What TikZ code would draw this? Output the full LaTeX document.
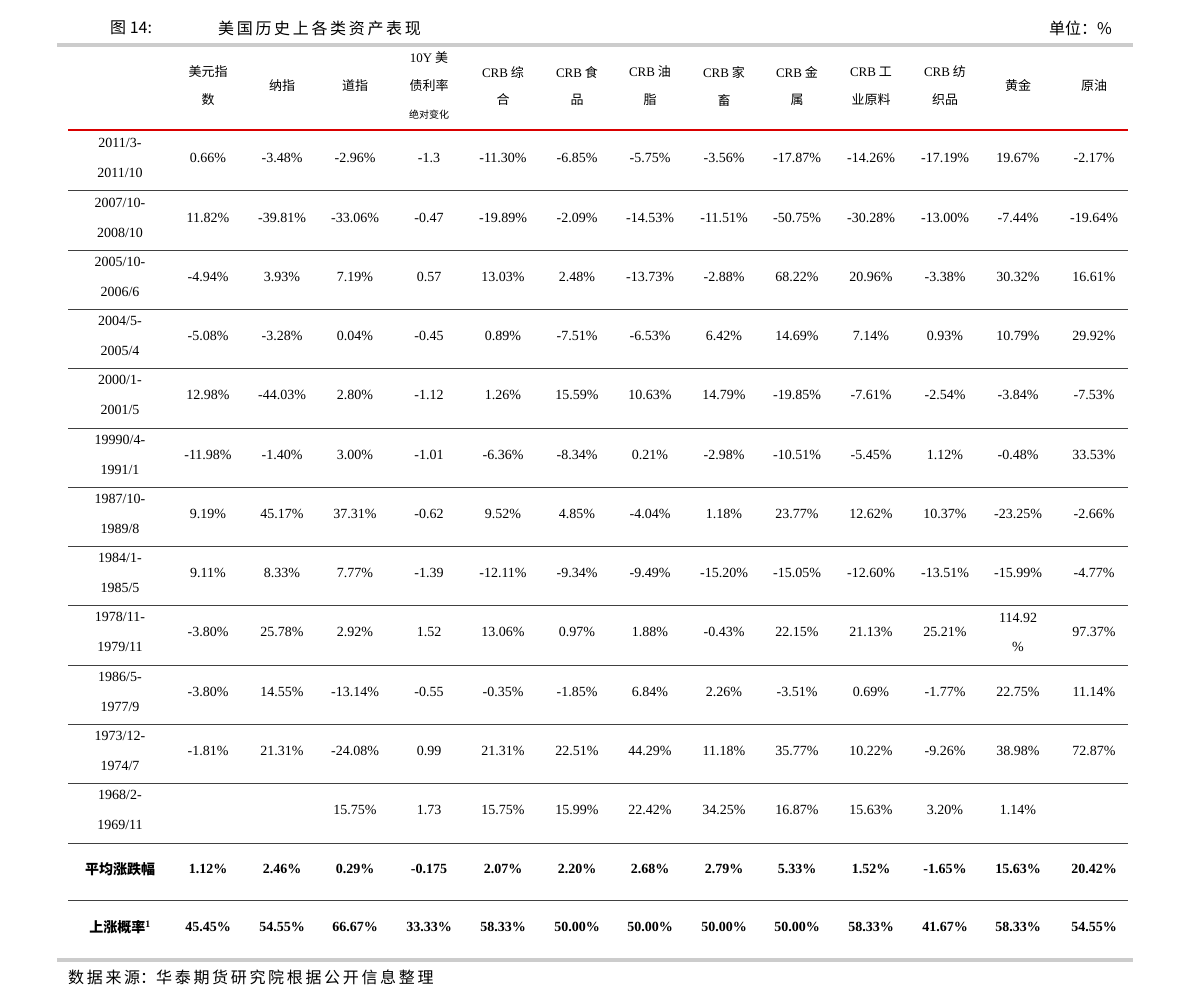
\documentclass[tikz,border=0pt]{standalone}
\usepackage{fontspec}
\setmainfont{Liberation Serif}
\newfontfamily\cjk{Noto Sans CJK SC}
\begin{document}
\begin{tikzpicture}[x=1pt,y=-1pt,every node/.style={inner sep=0pt,font=\fontsize{14}{16}\selectfont}]
\useasboundingbox (0,0) rectangle (1191,1007);
\def\cx{{208,282,355,429,503,577,650,724,797,871,945,1018,1094}}
\newcommand\drow[4]{%
  \node at (120,#1-15) {#2}; \node at (120,#1+15) {#3};
  \foreach \v [count=\i from 0] in {#4} {\pgfmathsetmacro\xx{\cx[\i]}\node at (\xx,#1) {\v};}}
\newcommand\brow[3]{%
  \node[font=\fontsize{14}{16}\selectfont\bfseries] at (120,#1) {#2};
  \foreach \v [count=\i from 0] in {#3} {\pgfmathsetmacro\xx{\cx[\i]}\node[font=\fontsize{14}{16}\selectfont\bfseries] at (\xx,#1) {\v};}}
% title
\node[anchor=west,font=\cjk\fontsize{16}{18}\selectfont] (t1) at (110,28) {图 14:};
\node[anchor=west,font=\cjk\fontsize{16}{18}\selectfont] (t2) at (218,28) {美\,国\,历\,史\,上\,各\,类\,资\,产\,表\,现};
\node[anchor=east,font=\cjk\fontsize{16}{18}\selectfont] (t3) at (1112,28) {单位：\%};
\draw[line width=4pt,black!20] (57,45) -- (1133,45);
% header
\begin{scope}[every node/.append style={font=\cjk\fontsize{13}{15}\selectfont}]
\node at (208,72) {美元指}; \node at (208,100) {数};
\node at (282,86) {纳指};
\node at (355,86) {道指};
\node at (429,58) {{\rmfamily 10Y} 美}; \node at (429,86) {债利率};
\node[font=\cjk\fontsize{10}{12}\selectfont] at (429,115) {绝对变化};
\node at (503,72) {{\rmfamily CRB} 综}; \node at (503,100) {合};
\node at (577,72) {{\rmfamily CRB} 食}; \node at (577,100) {品};
\node at (650,72) {{\rmfamily CRB} 油}; \node at (650,100) {脂};
\node at (724,72) {{\rmfamily CRB} 家}; \node at (724,100) {畜};
\node at (797,72) {{\rmfamily CRB} 金}; \node at (797,100) {属};
\node at (871,72) {{\rmfamily CRB} 工}; \node at (871,100) {业原料};
\node at (945,72) {{\rmfamily CRB} 纺}; \node at (945,100) {织品};
\node at (1018,86) {黄金};
\node at (1094,86) {原油};
\end{scope}
\draw[line width=2.5pt,red!85!black] (68,130) -- (1128,130);
\foreach \y in {190,250,309,368,428,487,546,605,665,724,783,843,900} \draw[line width=0.8pt,black!75] (68,\y) -- (1128,\y);
\drow{158}{2011/3-}{2011/10}{0.66\%,-3.48\%,-2.96\%,-1.3,-11.30\%,-6.85\%,-5.75\%,-3.56\%,-17.87\%,-14.26\%,-17.19\%,19.67\%,-2.17\%}
\drow{218}{2007/10-}{2008/10}{11.82\%,-39.81\%,-33.06\%,-0.47,-19.89\%,-2.09\%,-14.53\%,-11.51\%,-50.75\%,-30.28\%,-13.00\%,-7.44\%,-19.64\%}
\drow{277}{2005/10-}{2006/6}{-4.94\%,3.93\%,7.19\%,0.57,13.03\%,2.48\%,-13.73\%,-2.88\%,68.22\%,20.96\%,-3.38\%,30.32\%,16.61\%}
\drow{336}{2004/5-}{2005/4}{-5.08\%,-3.28\%,0.04\%,-0.45,0.89\%,-7.51\%,-6.53\%,6.42\%,14.69\%,7.14\%,0.93\%,10.79\%,29.92\%}
\drow{395}{2000/1-}{2001/5}{12.98\%,-44.03\%,2.80\%,-1.12,1.26\%,15.59\%,10.63\%,14.79\%,-19.85\%,-7.61\%,-2.54\%,-3.84\%,-7.53\%}
\drow{455}{19990/4-}{1991/1}{-11.98\%,-1.40\%,3.00\%,-1.01,-6.36\%,-8.34\%,0.21\%,-2.98\%,-10.51\%,-5.45\%,1.12\%,-0.48\%,33.53\%}
\drow{514}{1987/10-}{1989/8}{9.19\%,45.17\%,37.31\%,-0.62,9.52\%,4.85\%,-4.04\%,1.18\%,23.77\%,12.62\%,10.37\%,-23.25\%,-2.66\%}
\drow{573}{1984/1-}{1985/5}{9.11\%,8.33\%,7.77\%,-1.39,-12.11\%,-9.34\%,-9.49\%,-15.20\%,-15.05\%,-12.60\%,-13.51\%,-15.99\%,-4.77\%}
\drow{632}{1978/11-}{1979/11}{-3.80\%,25.78\%,2.92\%,1.52,13.06\%,0.97\%,1.88\%,-0.43\%,22.15\%,21.13\%,25.21\%,,97.37\%}
\node at (1018,618) {114.92}; \node at (1018,647) {\%};
\drow{692}{1986/5-}{1977/9}{-3.80\%,14.55\%,-13.14\%,-0.55,-0.35\%,-1.85\%,6.84\%,2.26\%,-3.51\%,0.69\%,-1.77\%,22.75\%,11.14\%}
\drow{751}{1973/12-}{1974/7}{-1.81\%,21.31\%,-24.08\%,0.99,21.31\%,22.51\%,44.29\%,11.18\%,35.77\%,10.22\%,-9.26\%,38.98\%,72.87\%}
\drow{810}{1968/2-}{1969/11}{,,15.75\%,1.73,15.75\%,15.99\%,22.42\%,34.25\%,16.87\%,15.63\%,3.20\%,1.14\%,}
\brow{869}{\cjk 平均涨跌幅}{1.12\%,2.46\%,0.29\%,-0.175,2.07\%,2.20\%,2.68\%,2.79\%,5.33\%,1.52\%,-1.65\%,15.63\%,20.42\%}
\brow{927}{{\cjk 上涨概率}\textsuperscript{1}}{45.45\%,54.55\%,66.67\%,33.33\%,58.33\%,50.00\%,50.00\%,50.00\%,50.00\%,58.33\%,41.67\%,58.33\%,54.55\%}
\draw[line width=4pt,black!20] (57,960) -- (1133,960);
\node[anchor=west,font=\cjk\fontsize{16}{18}\selectfont] (src) at (68,977) {数\,据\,来\,源：华\,泰\,期\,货\,研\,究\,院\,根\,据\,公\,开\,信\,息\,整\,理};
\end{tikzpicture}
\end{document}
